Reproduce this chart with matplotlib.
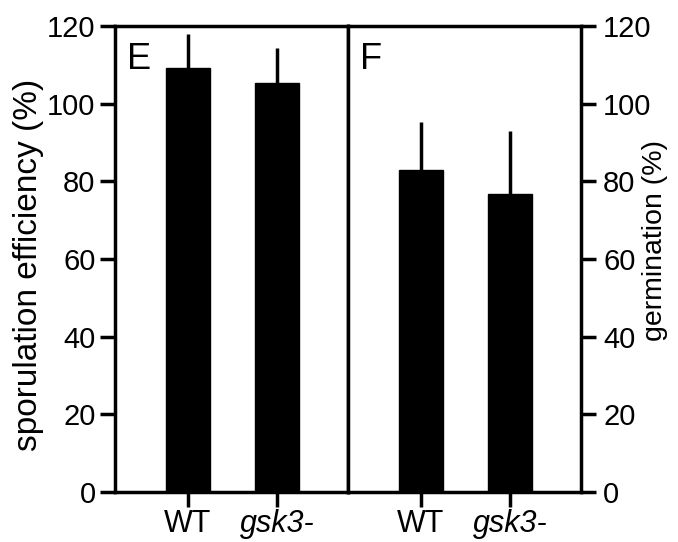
import numpy as np
import matplotlib
matplotlib.use('Agg')
import matplotlib.pyplot as plt

plt.rcParams['font.family'] = ['Liberation Sans', 'DejaVu Sans']

# data
strains = ['WT', 'gsk3-']
sporulation = [109.1, 105.2]
sporulation_err = [8.8, 9.2]
germination = [82.9, 76.7]
germination_err = [12.4, 16.3]
y_ticks = [0, 20, 40, 60, 80, 100, 120]

lw = 2.5

fig = plt.figure(figsize=(6.78, 5.42), dpi=100)
ax1 = fig.add_axes([115 / 678, 1 - 492 / 542, 233 / 678, 466 / 542])
ax2 = fig.add_axes([348 / 678, 1 - 492 / 542, 233 / 678, 466 / 542])

x = np.arange(len(strains))

for ax, vals, errs, letter in [(ax1, sporulation, sporulation_err, 'E'),
                               (ax2, germination, germination_err, 'F')]:
    ax.bar(x, vals, width=0.49, color='black', edgecolor='black')
    ax.errorbar(x, vals, yerr=[np.zeros(len(errs)), errs], fmt='none',
                ecolor='black', elinewidth=lw, capsize=0)
    ax.set_xlim(-0.81, 1.79)
    ax.set_ylim(0, 120)
    ax.set_xticks(x)
    ax.set_xticklabels(strains, fontsize=22)
    ax.get_xticklabels()[1].set_style('italic')
    for s in ax.spines.values():
        s.set_linewidth(lw)
    ax.tick_params(axis='x', length=11, width=lw, pad=1)
    ax.text(0.05, 0.908, letter, transform=ax.transAxes, fontsize=26,
            ha='left', va='baseline')

ax1.set_yticks(y_ticks)
ax1.tick_params(axis='y', labelsize=21, length=11, width=lw, pad=3)
ax1.set_ylabel('sporulation efficiency (%)', fontsize=24)
ax1.yaxis.set_label_coords(-0.305, 0.487)

ax2.set_yticks(y_ticks)
ax2.yaxis.tick_right()
ax2.yaxis.set_label_position('right')
ax2.tick_params(axis='y', labelsize=21, length=11, width=lw, pad=5)
ax2.set_ylabel('germination (%)', fontsize=20.5)
ax2.yaxis.set_label_coords(1.26, 0.54)

fig.savefig('out.png', dpi=100)
